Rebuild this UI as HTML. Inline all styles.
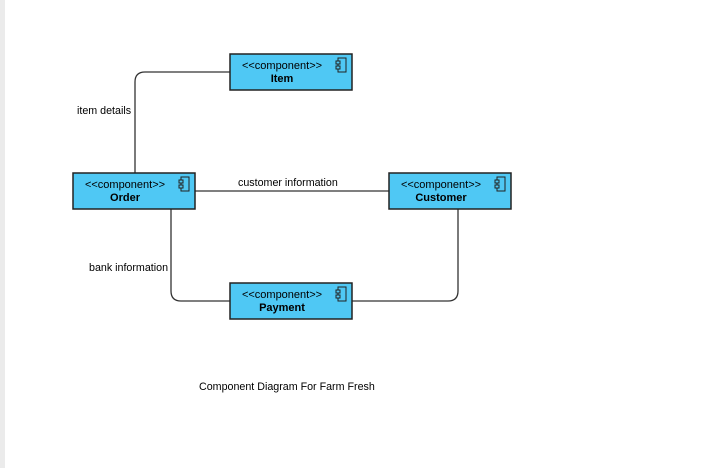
<!DOCTYPE html><html><head><style>body{margin:0;background:#fff;width:701px;height:468px;overflow:hidden;font-family:"Liberation Sans",Arial,sans-serif}</style></head><body>
<svg width="701" height="468" xmlns="http://www.w3.org/2000/svg" font-family="Liberation Sans, Arial, sans-serif">
<rect x="0" y="0" width="5" height="468" fill="#ebebeb"/>
<g fill="none" stroke="#333" stroke-width="1.3">
<path d="M230 72 H145 Q135 72 135 82 V173"/>
<path d="M195 191 H389"/>
<path d="M171 209 V291 Q171 301 181 301 H230"/>
<path d="M352 301 H448 Q458 301 458 291 V209"/>
</g>
<g font-size="10.7" fill="#000">
<text x="77" y="114">item details</text>
<text x="238" y="186">customer information</text>
<text x="89" y="271">bank information</text>
<text x="199" y="390">Component Diagram For Farm Fresh</text>
</g>
<g stroke="#222" stroke-width="1.5" fill="#4fc8f4">
<rect x="230" y="54" width="122" height="36"/>
<rect x="73" y="173" width="122" height="36"/>
<rect x="389" y="173" width="122" height="36"/>
<rect x="230" y="283" width="122" height="36"/>
</g>
<g font-size="11" fill="#000" text-anchor="middle">
<text x="282" y="69">&lt;&lt;component&gt;&gt;</text><text x="282" y="82" font-weight="bold">Item</text>
<text x="125" y="188">&lt;&lt;component&gt;&gt;</text><text x="125" y="201" font-weight="bold">Order</text>
<text x="441" y="188">&lt;&lt;component&gt;&gt;</text><text x="441" y="201" font-weight="bold">Customer</text>
<text x="282" y="298">&lt;&lt;component&gt;&gt;</text><text x="282" y="311" font-weight="bold">Payment</text>
</g>
<g fill="none" stroke="#222" stroke-width="1">
<g transform="translate(337,58)"><rect x="1" y="0" width="8" height="14"/><rect x="-1" y="3" width="4" height="3" fill="#4fc8f4"/><rect x="-1" y="8" width="4" height="3" fill="#4fc8f4"/></g>
<g transform="translate(180,177)"><rect x="1" y="0" width="8" height="14"/><rect x="-1" y="3" width="4" height="3" fill="#4fc8f4"/><rect x="-1" y="8" width="4" height="3" fill="#4fc8f4"/></g>
<g transform="translate(496,177)"><rect x="1" y="0" width="8" height="14"/><rect x="-1" y="3" width="4" height="3" fill="#4fc8f4"/><rect x="-1" y="8" width="4" height="3" fill="#4fc8f4"/></g>
<g transform="translate(337,287)"><rect x="1" y="0" width="8" height="14"/><rect x="-1" y="3" width="4" height="3" fill="#4fc8f4"/><rect x="-1" y="8" width="4" height="3" fill="#4fc8f4"/></g>
</g>
</svg></body></html>
